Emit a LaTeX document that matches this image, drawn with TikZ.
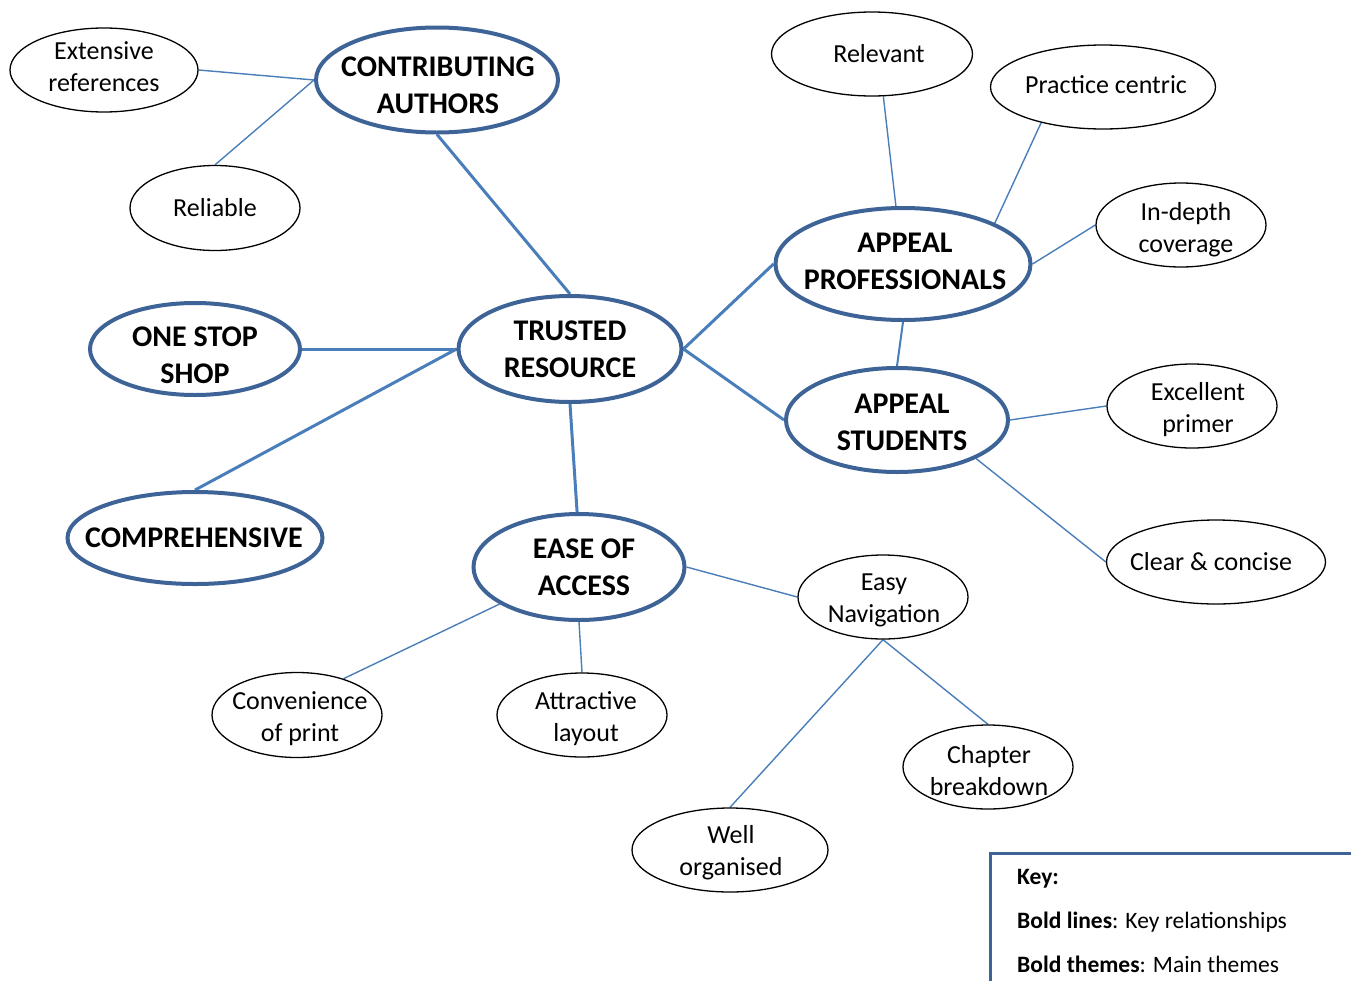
\documentclass[tikz,border=0pt]{standalone}
\usepackage{fontspec}
\setmainfont{Carlito}
\usetikzlibrary{shapes.geometric}
\definecolor{mainborder}{HTML}{3E6396}
\definecolor{linkblue}{HTML}{4A7EBB}
\pgfdeclarelayer{bg}
\pgfsetlayers{bg,main}
\tikzset{
  leaf/.style={ellipse, draw=black, line width=1.3pt, fill=white, inner sep=0pt},
  theme/.style={ellipse, draw=mainborder, line width=4pt, fill=white, inner sep=0pt},
  leaftext/.style={inner sep=0pt, align=center, font=\fontsize{26}{32}\selectfont},
  themetext/.style={inner sep=0pt, align=center, font=\fontsize{30}{37}\selectfont\bfseries},
  keytext/.style={anchor=west, inner sep=0pt, font=\fontsize{23.5}{28}\selectfont},
  thin/.style={draw=linkblue, line width=1.4pt},
  bold/.style={draw=linkblue, line width=3pt},
  medium/.style={draw=linkblue, line width=2pt},
}
\begin{document}
\begin{tikzpicture}[x=1pt,y=-1pt]
\useasboundingbox (0,0) rectangle (1351,980);
% key box
\draw[draw=mainborder, line width=3pt, fill=white] (990,853) rectangle (1360,990);
\node[keytext] (k1) at (1017,879) {\textbf{Key:}};
\node[keytext] (k2) at (1017,922) {\textbf{Bold lines}: Key relationships};
\node[keytext] (k3) at (1017,964) {\textbf{Bold themes}: Main themes};

% ellipses
\node[leaf, minimum width=188, minimum height=84] (ext) at (104,70) {};
\node[leaftext] (ext-t) at (104,67) {Extensive\\references};
\node[leaf, minimum width=170, minimum height=85] (rel) at (215,208) {};
\node[leaftext] (rel-t) at (215,208) {Reliable};
\node[theme, minimum width=242, minimum height=105] (ca) at (437,80) {};
\node[themetext] (ca-t) at (438,85) {CONTRIBUTING\\AUTHORS};
\node[leaf, minimum width=201, minimum height=84] (relev) at (872,54) {};
\node[leaftext] (relev-t) at (879,54) {Relevant};
\node[leaf, minimum width=225, minimum height=84] (prac) at (1103,87) {};
\node[leaftext] (prac-t) at (1106,85) {Practice centric};
\node[leaf, minimum width=170, minimum height=84] (indep) at (1181,225) {};
\node[leaftext] (indep-t) at (1186,230) {In-depth\\coverage};
\node[theme, minimum width=255, minimum height=112] (ap) at (903,264) {};
\node[themetext] (ap-t) at (905,261) {APPEAL\\PROFESSIONALS};
\node[theme, minimum width=223, minimum height=106] (tr) at (570,349) {};
\node[themetext] (tr-t) at (570,349) {TRUSTED\\RESOURCE};
\node[theme, minimum width=210, minimum height=92] (oss) at (195,349) {};
\node[themetext] (oss-t) at (195,355) {ONE STOP\\SHOP};
\node[theme, minimum width=222, minimum height=104] (as) at (897,420) {};
\node[themetext] (as-t) at (902,422) {APPEAL\\STUDENTS};
\node[leaf, minimum width=170, minimum height=84] (exc) at (1192,406) {};
\node[leaftext] (exc-t) at (1198,410) {Excellent\\primer};
\node[theme, minimum width=255, minimum height=92] (comp) at (195,538) {};
\node[themetext] (comp-t) at (194,538) {COMPREHENSIVE};
\node[theme, minimum width=211, minimum height=106] (ease) at (579,567) {};
\node[themetext] (ease-t) at (584,567) {EASE OF\\ACCESS};
\node[leaf, minimum width=170, minimum height=84] (nav) at (883,597) {};
\node[leaftext] (nav-t) at (884,600) {Easy\\Navigation};
\node[leaf, minimum width=219, minimum height=84] (clear) at (1216,562) {};
\node[leaftext] (clear-t) at (1211,562) {Clear \& concise};
\node[leaf, minimum width=170, minimum height=85] (conv) at (297,715) {};
\node[leaftext] (conv-t) at (300,719) {Convenience\\of print};
\node[leaf, minimum width=170, minimum height=84] (attr) at (582,715) {};
\node[leaftext] (attr-t) at (586,719) {Attractive\\layout};
\node[leaf, minimum width=170, minimum height=84] (chap) at (988,767) {};
\node[leaftext] (chap-t) at (989,771) {Chapter\\breakdown};
\node[leaf, minimum width=196, minimum height=84] (well) at (730,850) {};
\node[leaftext] (well-t) at (731,853) {Well\\organised};

\begin{pgfonlayer}{bg}
\draw[thin] (ext.east) -- (ca.west);
\draw[thin] (rel.north) -- (ca.west);
\draw[bold] (ca.south) -- (tr.north);
\draw[bold] (oss.east) -- (tr.west);
\draw[bold] (comp.north) -- (tr.west);
\draw[bold] (tr.south) -- (ease.92);
\draw[bold] (tr.east) -- (ap.west);
\draw[bold] (tr.east) -- (as.west);
\draw[medium] (ap.south) -- (as.north);
\draw[thin] (relev.-75) -- (ap.97);
\draw[thin] (prac.210) -- (ap.24);
\draw[thin] (indep.west) -- (ap.east);
\draw[thin] (exc.west) -- (as.east);
\draw[thin] (clear.west) -- (as.-26);
\draw[thin] (ease.east) -- (nav.west);
\draw[thin] (ease.205) -- (conv.38);
\draw[thin] (ease.south) -- (attr.north);
\draw[thin] (nav.south) -- (chap.north);
\draw[thin] (nav.south) -- (well.north);
\end{pgfonlayer}
\end{tikzpicture}
\end{document}
